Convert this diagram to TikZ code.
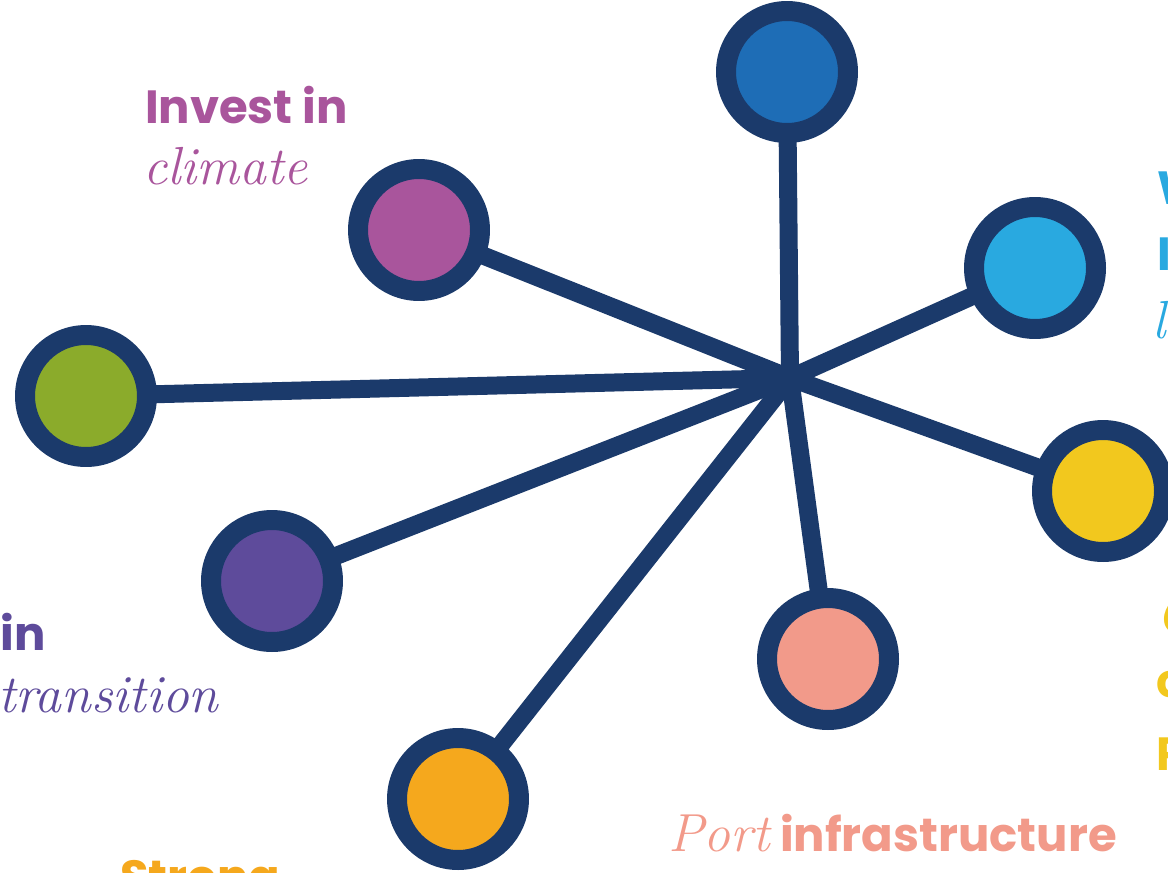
\documentclass[tikz,border=0pt]{standalone}
\usepackage{fontspec}
\newfontfamily\bsans{Poppins}
\usetikzlibrary{backgrounds}
\definecolor{navy}{HTML}{1B3A6B}
\definecolor{cblue}{HTML}{1E6DB6}
\definecolor{cmag}{HTML}{A9559C}
\definecolor{clblue}{HTML}{29A9E0}
\definecolor{cgreen}{HTML}{8BAB2B}
\definecolor{cyellow}{HTML}{F2C81E}
\definecolor{cpurple}{HTML}{5E4B9B}
\definecolor{cpink}{HTML}{F29A8A}
\definecolor{corange}{HTML}{F5A81D}
\begin{document}
\begin{tikzpicture}[x=0.02cm,y=-0.02cm,
  ringnode/.style={circle, draw=navy, line width=0.4cm, minimum size=2.44cm, inner sep=0pt},
  spoke/.style={draw=navy, line width=0.36cm},
  lbl/.style={anchor=base west, inner sep=0pt, outer sep=0pt},
  boldlbl/.style={lbl, font=\bsans\bfseries\fontsize{26.5}{32}\selectfont},
  itallbl/.style={lbl, font=\itshape\fontsize{30.5}{36}\selectfont}]
\useasboundingbox (0,0) rectangle (1168,872);
\clip (0,0) rectangle (1168,872);

\coordinate (hub) at (790,378);

\node[ringnode, fill=cblue]   (ntop)    at (787,72) {};
\node[ringnode, fill=cmag]    (nmag)    at (419,230) {};
\node[ringnode, fill=clblue]  (nlblue)  at (1035,268) {};
\node[ringnode, fill=cgreen]  (ngreen)  at (86,396) {};
\node[ringnode, fill=cyellow] (nyellow) at (1103,491) {};
\node[ringnode, fill=cpurple] (npurple) at (272,581) {};
\node[ringnode, fill=cpink]   (npink)   at (828,659) {};
\node[ringnode, fill=corange] (norange) at (458,799) {};

\begin{scope}[on background layer]
\foreach \n in {ntop,nmag,nlblue,ngreen,nyellow,npurple,npink,norange}
  \draw[spoke] (hub) -- (\n.center);
\end{scope}

% labels
\node[boldlbl, text=cmag] (t1a) at (145,123) {Invest in};
\node[itallbl, text=cmag] (t1b) at (143,184) {climate};

\node[boldlbl, text=clblue] (t2a) at (1157,204) {W};
\node[boldlbl, text=clblue] (t2b) at (1157,270) {I};
\node[itallbl, text=clblue] (t2c) at (1152,338) {l};

\node[itallbl, text=cyellow] (t3a) at (1156,632) {C};
\node[boldlbl, text=cyellow] (t3b) at (1156,697) {c};
\node[boldlbl, text=cyellow] (t3c) at (1156,770) {P};

\node[boldlbl, text=cpurple] (t4a) at (1,650) {in};
\node[itallbl, text=cpurple] (t4b) at (-2,712) {transition};

\node[boldlbl, text=corange] (t5a) at (120,893) {Strong};

\node[itallbl, text=cpink] (t6a) at (668,851) {Port};
\node[boldlbl, text=cpink] (t6b) at (780,851) {infrastructure};
\end{tikzpicture}
\end{document}
